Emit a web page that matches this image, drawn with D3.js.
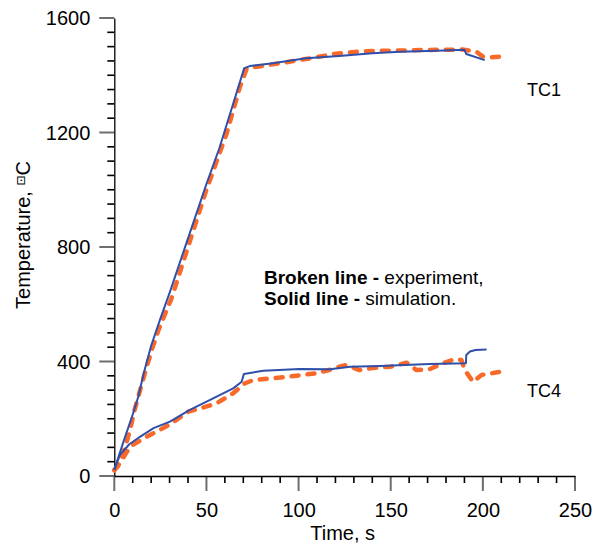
<!DOCTYPE html>
<html>
<head>
<meta charset="utf-8">
<script src="https://cdn.jsdelivr.net/npm/d3@7"></script>
<style>
  html, body { margin: 0; padding: 0; background: #fff; }
  svg { display: block; font-family: "Liberation Sans", Arial, sans-serif; }
</style>
</head>
<body>
<svg id="chart" width="605" height="548"></svg>
<script>
// ---- data ----
const xTicks = [0, 50, 100, 150, 200, 250];
const yTicks = [0, 400, 800, 1200, 1600];
const xMinorStep = 10;
const yMinorStep = 50;

// TC1 simulation (solid)
const tc1Sim = [
  [0,22],[5,120],[10,215],[13,277],[16,360],[20,455],[25,550],[30,640],[40,830],
  [50,1020],[57,1145],[64,1290],[70.5,1425],[73.6,1432],[86,1442],[104,1459],
  [122,1467],[140,1477],[155,1482],[175,1486],[190,1489],[191,1474],[201,1453]
];
// TC1 experiment (broken)
const tc1Exp = [
  [0,20],[2,35],[4,65],[6,102],[8.5,160],[11,230],[14,300],[16.6,359],[20.3,440],
  [24,510],[28.4,580],[31,620],[40,800],[50,1000],[61,1197],[68.2,1360],[71.8,1422],
  [75.4,1428],[90,1442],[106,1459],[119,1474],[135,1484],[150,1486],[168,1488],
  [189,1490],[196.6,1482],[200,1465],[205,1463],[210,1465]
];
// TC4 simulation (solid)
const tc4Sim = [
  [0,21],[3,73],[8,110],[13.9,137],[21.3,167],[30.2,190],[41,231],[52,266],
  [64.5,306],[69.1,329],[70.3,356],[80.8,368],[100.7,374],[117,373],[128,382],
  [144,384],[171,391],[190.8,394],[191,423],[193,435],[196,440],[202,442]
];
// TC4 experiment (broken)
const tc4Exp = [
  [0,21],[3.1,45],[8.5,102],[15.7,131],[23,155],[31.1,184],[40.2,225],[46.5,236],
  [55.5,254],[64.5,289],[70.9,324],[75.4,335],[91.7,345],[109.8,359],[117,371],
  [121,380],[126,388],[133,370],[140,377],[150,382],[158.6,396],[164,370],[171,373],
  [178.5,394],[184.8,408],[188.4,405],[190.2,370],[194.7,329],[199.3,353],[209.2,364]
];

const labels = { tc1: "TC1", tc4: "TC4", xTitle: "Time, s" };

// ---- layout ----
const svg = d3.select("#chart");
const x = d3.scaleLinear().domain([0, 250]).range([114.3, 575]);
const y = d3.scaleLinear().domain([0, 1600]).range([476, 18]);

const blue = "#2F4FAA";
const orange = "#F96A2A";
const fmt = d3.format("d");

const xMinor = d3.range(0, 251, xMinorStep).filter(v => v % 50 !== 0);
const yMinor = d3.range(0, 1601, yMinorStep).filter(v => v % 400 !== 0);
const y0 = y(0), x0 = x(0);

// tick marks as filled rects positioned by the scales
svg.append("g").selectAll("rect").data(xMinor).join("rect")
  .attr("x", d => x(d) - 0.8).attr("y", y0).attr("width", 1.6).attr("height", 7)
  .attr("fill", "#000");
svg.append("g").selectAll("rect").data(yMinor).join("rect")
  .attr("x", x0 - 7).attr("y", d => y(d) - 0.8).attr("width", 7).attr("height", 1.6)
  .attr("fill", "#000");
svg.append("g").selectAll("rect").data(xTicks).join("rect")
  .attr("x", d => x(d) - 1).attr("y", y0).attr("width", 2).attr("height", 15)
  .attr("fill", "#6e6e6e");
svg.append("g").selectAll("rect").data(yTicks).join("rect")
  .attr("x", x0 - 15).attr("y", d => y(d) - 1).attr("width", 15).attr("height", 2)
  .attr("fill", "#6e6e6e");

// axes (domain + labels)
const gx = svg.append("g").attr("transform", `translate(0,${y0})`)
  .call(d3.axisBottom(x).tickValues(xTicks).tickFormat(fmt).tickSize(0).tickSizeOuter(0));
gx.select(".domain").attr("stroke", "#000").attr("stroke-width", 1.3);
gx.selectAll(".tick text").attr("y", 41).attr("dy", 0)
  .attr("font-size", 20).attr("fill", "#000")
  .attr("font-family", "'Liberation Sans', Arial, sans-serif");

const gy = svg.append("g").attr("transform", `translate(${x0},0)`)
  .call(d3.axisLeft(y).tickValues(yTicks).tickFormat(fmt).tickSize(0).tickSizeOuter(0));
gy.select(".domain").attr("stroke", "#000").attr("stroke-width", 1.3);
gy.selectAll(".tick text").attr("x", -24).attr("dy", "0.34em")
  .attr("font-size", 20).attr("fill", "#000")
  .attr("font-family", "'Liberation Sans', Arial, sans-serif");

// axis titles
svg.append("text").attr("x", (x(0) + x(250)) / 2 - 2).attr("y", 540)
  .attr("text-anchor", "middle").attr("font-size", 20).text(labels.xTitle);

const yt = svg.append("text")
  .attr("transform", `translate(30,${(y(0) + y(1600)) / 2 - 12}) rotate(-90)`)
  .attr("text-anchor", "middle").attr("font-size", 20);
yt.append("tspan").text("Temperature, ");
yt.append("tspan").attr("font-size", 12).attr("dy", -5)
  .attr("font-family", "'DejaVu Sans', sans-serif").text("⊡");
yt.append("tspan").attr("dy", 5).text("C");

// lines
const line = d3.line().x(d => x(d[0])).y(d => y(d[1]));

function dashed(data) {
  svg.append("path").datum(data).attr("d", line)
    .attr("fill", "none").attr("stroke", orange).attr("stroke-width", 4.5)
    .attr("stroke-dasharray", "7,9").attr("stroke-linecap", "round")
    .attr("stroke-linejoin", "round");
}
function solid(data) {
  svg.append("path").datum(data).attr("d", line)
    .attr("fill", "none").attr("stroke", blue).attr("stroke-width", 2)
    .attr("stroke-linejoin", "round");
}
dashed(tc1Exp);
dashed(tc4Exp);
solid(tc1Sim);
solid(tc4Sim);

// labels
svg.append("text").attr("x", 527).attr("y", 96).attr("font-size", 18).text(labels.tc1);
svg.append("text").attr("x", 527).attr("y", 397).attr("font-size", 18).text(labels.tc4);

const note = svg.append("text").attr("x", 264).attr("font-size", 19);
const l1 = note.append("tspan").attr("x", 264).attr("y", 284);
l1.append("tspan").attr("font-weight", "bold").text("Broken line - ");
l1.append("tspan").text("experiment,");
const l2 = note.append("tspan").attr("x", 264).attr("y", 305);
l2.append("tspan").attr("font-weight", "bold").text("Solid line - ");
l2.append("tspan").text("simulation.");
</script>
</body>
</html>
